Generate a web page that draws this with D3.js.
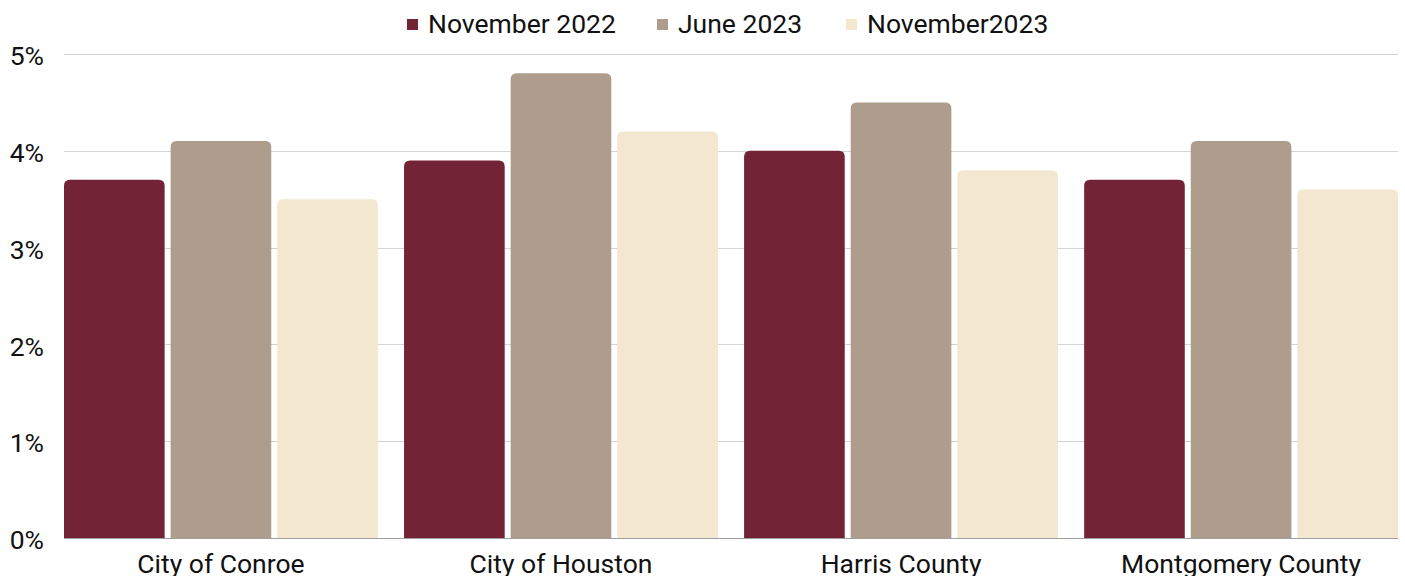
<!DOCTYPE html>
<html>
<head>
<meta charset="utf-8">
<script src="https://cdn.jsdelivr.net/npm/d3@7"></script>
<style>
  html, body { margin: 0; padding: 0; background: #fff; }
  svg { display: block; }
  svg text { font-family: Roboto, "Liberation Sans", Arial, sans-serif; }
</style>
</head>
<body>
<svg id="chart" width="1405" height="576"></svg>
<script>
// Unemployment rate by area, three survey months
const categories = ["City of Conroe", "City of Houston", "Harris County", "Montgomery County"];
const seriesNames = ["November 2022", "June 2023", "November2023"];
const nov2022 = [3.7, 3.9, 4.0, 3.7];
const jun2023 = [4.1, 4.8, 4.5, 4.1];
const nov2023 = [3.5, 4.2, 3.8, 3.6];
const seriesColors = ["#722335", "#ae9d8d", "#f3e7cf"];
const yTicks = [0, 1, 2, 3, 4, 5];

const seriesValues = [nov2022, jun2023, nov2023];
const FONT = "Roboto, 'Liberation Sans', Arial, sans-serif";
const FONT_SIZE = 26.5;

const svg = d3.select("#chart");
const margin = { top: 54, right: 7, bottom: 38, left: 64 };
const width = 1405 - margin.left - margin.right;
const height = 576 - margin.top - margin.bottom;

const g = svg.append("g").attr("transform", `translate(${margin.left},${margin.top})`);

const y = d3.scaleLinear().domain([0, 5]).range([height, 0]);

const x0 = d3.scaleBand().domain(categories).range([0, width])
  .paddingInner(0.077).paddingOuter(0);
const x1 = d3.scaleBand().domain(seriesNames).range([0, x0.bandwidth()])
  .paddingInner(0.056).paddingOuter(0);

// Gridlines
g.append("g").selectAll("line").data(yTicks).join("line")
  .attr("x1", 0).attr("x2", width)
  .attr("y1", d => Math.round(y(d)) + 0.5).attr("y2", d => Math.round(y(d)) + 0.5)
  .attr("stroke", d => d === 0 ? "#9e9e9e" : "#d4d4d4")
  .attr("stroke-width", 1);

// Y axis labels
const yAxis = d3.axisLeft(y).tickValues(yTicks).tickFormat(d => d + "%").tickSize(0).tickPadding(20);
g.append("g").call(yAxis)
  .attr("font-family", FONT)
  .call(s => s.select(".domain").remove())
  .call(s => s.selectAll("text")
    .attr("font-size", FONT_SIZE).attr("fill", "#111").attr("dy", "0.4em"));

// Bars with rounded top corners
function topRoundedRect(x, yTop, w, h, r) {
  r = Math.min(r, w / 2, h);
  return `M${x},${yTop + h}V${yTop + r}Q${x},${yTop} ${x + r},${yTop}` +
         `H${x + w - r}Q${x + w},${yTop} ${x + w},${yTop + r}V${yTop + h}Z`;
}

const barData = [];
categories.forEach((c, i) => {
  seriesNames.forEach((s, j) => {
    barData.push({ category: c, series: s, value: seriesValues[j][i], color: seriesColors[j] });
  });
});

g.append("g").selectAll("path").data(barData).join("path")
  .attr("d", d => {
    const bx = x0(d.category) + x1(d.series);
    return topRoundedRect(bx, y(d.value), x1.bandwidth(), y(0) - y(d.value), 6);
  })
  .attr("fill", d => d.color);

// Category axis
const xAxis = d3.axisBottom(x0).tickSize(0).tickPadding(16);
g.append("g").attr("transform", `translate(0,${height})`).call(xAxis)
  .attr("font-family", FONT)
  .call(s => s.select(".domain").remove())
  .call(s => s.selectAll("text")
    .attr("font-size", FONT_SIZE).attr("fill", "#111"));

// Legend
const legendX = [407, 657, 846];
const legend = svg.append("g").attr("font-family", FONT);
seriesNames.forEach((name, i) => {
  legend.append("rect")
    .attr("x", legendX[i]).attr("y", 19).attr("width", 11).attr("height", 11)
    .attr("fill", seriesColors[i]);
  legend.append("text")
    .attr("x", legendX[i] + 21).attr("y", 33)
    .attr("font-size", FONT_SIZE).attr("fill", "#111")
    .text(name);
});
</script>
</body>
</html>
